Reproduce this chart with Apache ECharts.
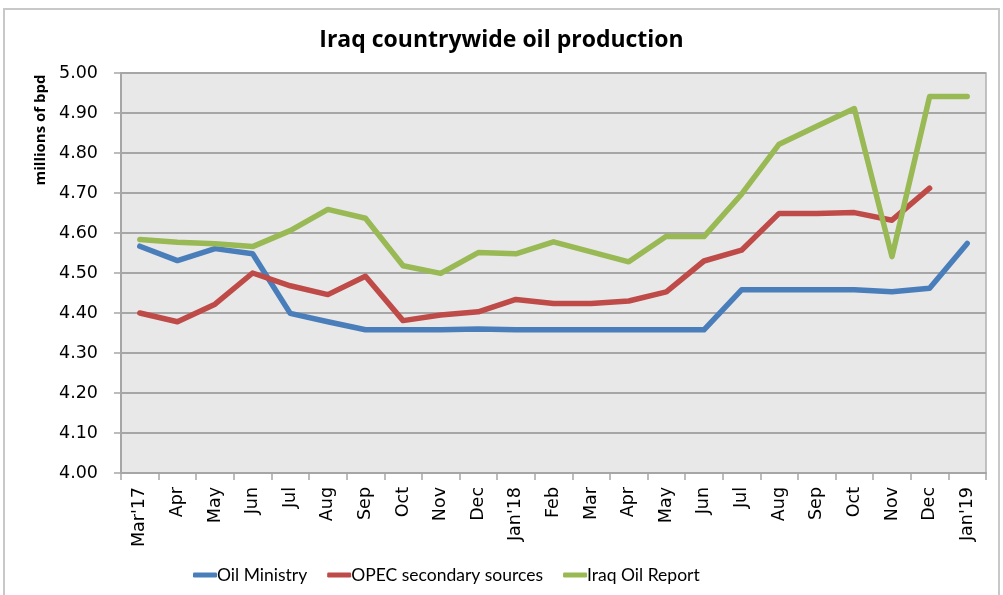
<!DOCTYPE html>
<html><head><meta charset="utf-8">
<script src="https://cdn.jsdelivr.net/npm/echarts@6/dist/echarts.min.js"></script>
<style>html,body{margin:0;padding:0;background:#fff}#c{width:1003px;height:595px}</style>
</head><body><div id="c"></div>
<script>
const categories = ["Mar'17","Apr","May","Jun","Jul","Aug","Sep","Oct","Nov","Dec","Jan'18","Feb","Mar","Apr","May","Jun","Jul","Aug","Sep","Oct","Nov","Dec","Jan'19"];
const oilMinistry = [4.567,4.531,4.561,4.548,4.399,4.378,4.358,4.358,4.358,4.360,4.358,4.358,4.358,4.358,4.358,4.358,4.458,4.458,4.458,4.458,4.453,4.462,4.574];
const opec = [4.400,4.378,4.422,4.500,4.468,4.446,4.492,4.381,4.395,4.403,4.434,4.424,4.424,4.430,4.453,4.530,4.557,4.649,4.649,4.651,4.632,4.712,null];
const iraqOilReport = [4.584,4.577,4.573,4.566,4.606,4.659,4.637,4.518,4.499,4.551,4.548,4.578,4.553,4.528,4.592,4.591,4.697,4.822,4.867,4.911,4.541,4.941,4.941];
const yTicks = {min:4.0, max:5.0, interval:0.1};
const titleText = "Iraq countrywide oil production";
const yName = "millions of bpd";

const chart = echarts.init(document.getElementById('c'), null, {renderer:'canvas'});
const lineStyle = w => ({width:w, cap:'round', join:'round'});
chart.setOption({
  animation:false,
  backgroundColor:'#ffffff',
  title:{text:titleText, left:'center', top:24, textStyle:{fontFamily:'Open Sans', fontWeight:'bold', fontSize:23, color:'#000'}},
  graphic:[
    {type:'rect', shape:{x:4, y:9, width:995, height:600}, style:{fill:null, stroke:'#c8c8c8', lineWidth:2}, silent:true, z:-1},
    {type:'text', x:41, y:130, rotation:Math.PI/2, style:{text:yName, font:'bold 15px "Open Sans"', fill:'#000', align:'center', verticalAlign:'middle'}}
  ],
  grid:{left:121, right:17, top:73, bottom:122, show:true, backgroundColor:'#e8e8e8', borderWidth:1.5, borderColor:'#b0b0b0'},
  legend:{bottom:6, left:188, itemGap:20, itemWidth:24, itemHeight:5, icon:'roundRect',
    textStyle:{fontFamily:'Lato', fontSize:17.5, color:'#000', padding:[0,0,0,-5]},
    data:['Oil Ministry','OPEC secondary sources','Iraq Oil Report']},
  xAxis:{type:'category', data:categories, boundaryGap:true,
    axisLine:{lineStyle:{color:'#a6a6a6', width:2}},
    axisTick:{show:true, alignWithLabel:false, length:7, lineStyle:{color:'#a6a6a6', width:1.5}},
    axisLabel:{rotate:90, interval:0, margin:14, fontFamily:'DejaVu Sans', fontSize:17.5, color:'#000'}},
  yAxis:{type:'value', min:yTicks.min, max:yTicks.max, interval:yTicks.interval,
    axisLine:{show:true, lineStyle:{color:'#a6a6a6', width:2}},
    axisTick:{show:true, length:7, lineStyle:{color:'#a6a6a6', width:1.5}},
    splitLine:{show:true, lineStyle:{color:'#a6a6a6', width:2}},
    axisLabel:{margin:23, fontFamily:'DejaVu Sans', fontSize:17.5, color:'#000', formatter:v=>v.toFixed(2)}},
  series:[
    {name:'Oil Ministry', type:'line', data:oilMinistry, symbol:'none', color:'#4a7ebb', lineStyle:lineStyle(5.5)},
    {name:'OPEC secondary sources', type:'line', data:opec, symbol:'none', color:'#be4b48', lineStyle:lineStyle(5.5)},
    {name:'Iraq Oil Report', type:'line', data:iraqOilReport, symbol:'none', color:'#98b954', lineStyle:lineStyle(5.5)}
  ]
});
</script></body></html>
